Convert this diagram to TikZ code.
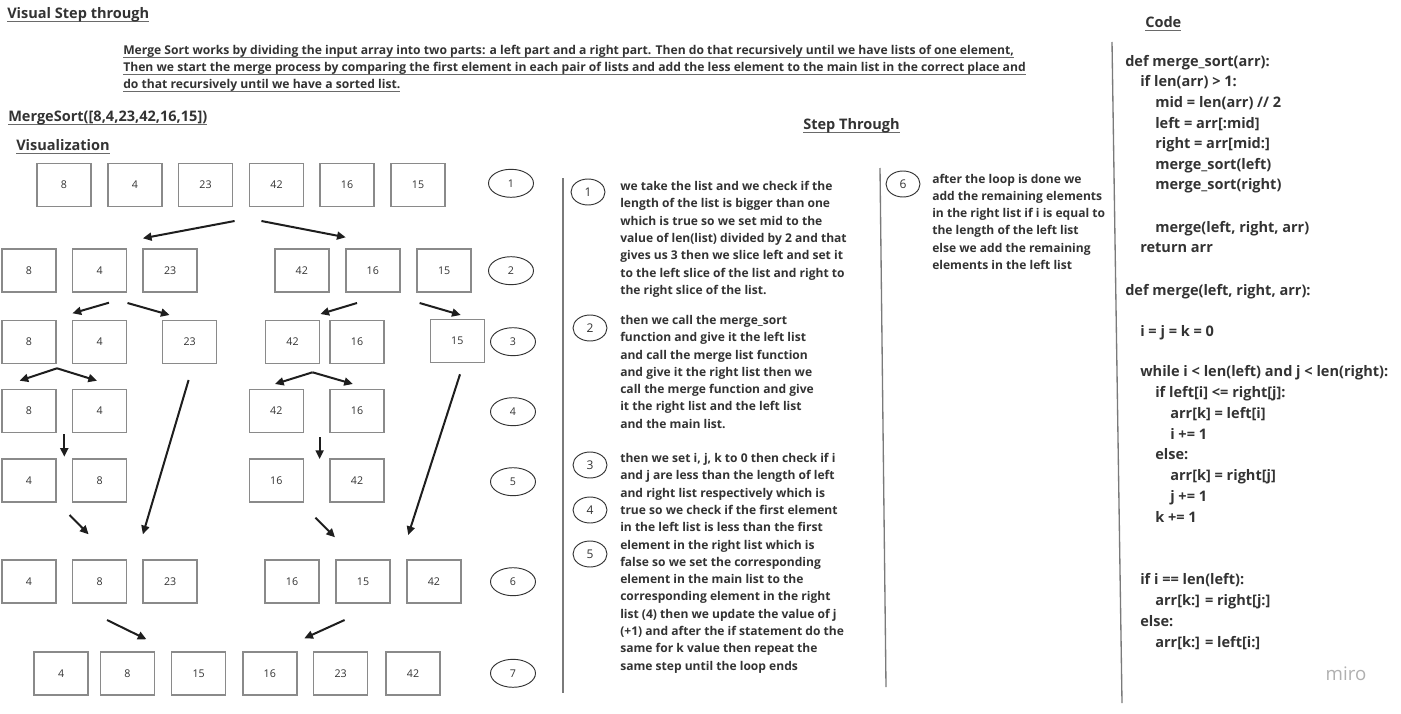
\documentclass[tikz,border=0pt]{standalone}
\usepackage{fontspec}
\setmainfont{Open Sans}
\usetikzlibrary{arrows.meta,shapes.geometric}
\definecolor{txt}{HTML}{333333}
\definecolor{boxgray}{HTML}{8A8A8A}
\definecolor{arr}{HTML}{1E1E1E}
\definecolor{sep}{HTML}{7A7A7A}
\definecolor{ulgray}{HTML}{6A6A6A}
\definecolor{mirogray}{HTML}{B0B0B0}
\newcommand\ulx[1]{\setbox0\hbox{#1}\rlap{\color{ulgray}\rule[-1.9pt]{\wd0}{0.7pt}}\box0}
\newcommand\stepfnt{\fontsize{9.05pt}{12.98pt}\selectfont\bfseries}
\newcommand\codefnt{\fontsize{10.9pt}{12pt}\selectfont\bfseries}
\newcommand\valfnt{\fontsize{8pt}{9pt}\selectfont}
\tikzset{
  valbox/.style={draw=boxgray, line width=1.1pt, minimum width=40.5pt, minimum height=32.25pt, inner sep=0pt, font=\valfnt, text=txt},
  rowlabel/.style={ellipse, draw=txt, line width=0.7pt, minimum width=33.75pt, minimum height=21pt, inner sep=0pt, font=\valfnt, text=txt},
  steplabel/.style={ellipse, draw=txt, line width=0.7pt, minimum width=25.5pt, minimum height=19.5pt, inner sep=0pt, font=\fontsize{9pt}{10pt}\selectfont, text=txt},
  steptext/.style={anchor=north west, inner sep=0pt, align=left, font=\stepfnt, text=txt},
  codeline/.style={anchor=base west, inner sep=0pt, font=\codefnt, text=txt},
  heading/.style={anchor=base west, inner sep=0pt, font=\fontsize{10.9pt}{12pt}\selectfont\bfseries, text=txt},
  intro/.style={anchor=base west, inner sep=0pt, font=\fontsize{9.1pt}{10pt}\selectfont\bfseries, text=txt},
  arrowline/.style={draw=arr, line width=1.5pt, -{Triangle[length=6.5pt,width=6pt]}},
  separator/.style={draw=sep, line width=1pt}
}
\begin{document}
\begin{tikzpicture}[x=0.75pt,y=-0.75pt]
\fill[white] (0,0) rectangle (1401,713);
\useasboundingbox (0,0) rectangle (1401,713);

% headings
\node[heading] (hvisual) at (7,19) {\ulx{Visual Step through}};
\node[intro] (in1) at (123,55) {\ulx{Merge Sort works by dividing the input array into two parts: a left part and a right part. Then do that recursively until we have lists of one element,}};
\node[intro] (in2) at (123,72) {\ulx{Then we start the merge process by comparing the first element in each pair of lists and add the less element to the main list in the correct place and}};
\node[intro] (in3) at (123,89) {\ulx{do that recursively until we have a sorted list.}};
\node[heading] (hms) at (8,122) {\ulx{MergeSort([8,4,23,42,16,15])}};
\node[heading] (hviz) at (16,151) {\ulx{Visualization}};
\node[heading] (hstep) at (803,130) {\ulx{Step Through}};
\node[heading] (hcode) at (1145,28) {\ulx{Code}};

% row 1
\node[valbox] (r1a) at (64,185) {8};
\node[valbox] (r1b) at (135,185) {4};
\node[valbox] (r1c) at (205.5,185) {23};
\node[valbox] (r1d) at (276.5,185) {42};
\node[valbox] (r1e) at (347,185) {16};
\node[valbox] (r1f) at (418,185) {15};
% row 2
\node[valbox] (r2a) at (29,270.5) {8};
\node[valbox] (r2b) at (99.6,270.5) {4};
\node[valbox] (r2c) at (170.2,270.5) {23};
\node[valbox] (r2d) at (301.8,270.5) {42};
\node[valbox] (r2e) at (372.8,270.5) {16};
\node[valbox] (r2f) at (444.2,270.5) {15};
% row 3
\node[valbox] (r3a) at (29,342) {8};
\node[valbox] (r3b) at (99.6,342) {4};
\node[valbox] (r3c) at (189.6,342) {23};
\node[valbox] (r3d) at (292.5,342) {42};
\node[valbox] (r3e) at (357,342) {16};
\node[valbox] (r3f) at (457.3,341) {15};
% row 4
\node[valbox] (r4a) at (29,411) {8};
\node[valbox] (r4b) at (99.6,411) {4};
\node[valbox] (r4c) at (276.3,411) {42};
\node[valbox] (r4d) at (357,411) {16};
% row 5
\node[valbox] (r5a) at (29,480.5) {4};
\node[valbox] (r5b) at (99.6,480.5) {8};
\node[valbox] (r5c) at (276.3,480.5) {16};
\node[valbox] (r5d) at (357,480.5) {42};
% row 6
\node[valbox] (r6a) at (29,581.3) {4};
\node[valbox] (r6b) at (99.6,581.3) {8};
\node[valbox] (r6c) at (170.2,581.3) {23};
\node[valbox] (r6d) at (292,581.3) {16};
\node[valbox] (r6e) at (363,581.3) {15};
\node[valbox] (r6f) at (433.9,581.3) {42};
% row 7
\node[valbox] (r7a) at (61.2,673.5) {4};
\node[valbox] (r7b) at (127.3,673.5) {8};
\node[valbox] (r7c) at (198.7,673.5) {15};
\node[valbox] (r7d) at (269.8,673.5) {16};
\node[valbox] (r7e) at (340.7,673.5) {23};
\node[valbox] (r7f) at (413,673.5) {42};

% row labels
\node[rowlabel] (c1) at (511,183.3) {1};
\node[rowlabel] (c2) at (511,270.7) {2};
\node[rowlabel] (c3) at (513,341.7) {3};
\node[rowlabel] (c4) at (513,411.7) {4};
\node[rowlabel] (c5) at (513,481.7) {5};
\node[rowlabel] (c6) at (513,581.7) {6};
\node[rowlabel] (c7) at (513,673.3) {7};

% arrow end points
\coordinate (p1s) at (234.6,221);   \coordinate (p1e) at (142.9,238.3);
\coordinate (p2s) at (261.4,221);   \coordinate (p2e) at (345.7,237.3);
\coordinate (p3s) at (109,302.7);   \coordinate (p3e) at (72.5,313.3);
\coordinate (p4s) at (127.5,303);   \coordinate (p4e) at (169.6,315);
\coordinate (p5s) at (357,303);     \coordinate (p5e) at (320.4,314);
\coordinate (p6s) at (419.6,303);   \coordinate (p6e) at (460.7,315);
\coordinate (p7s) at (57,368.3);    \coordinate (p7l) at (19.6,380.7);  \coordinate (p7r) at (97,380.7);
\coordinate (p8s) at (312.5,372.3); \coordinate (p8l) at (275,384);     \coordinate (p8r) at (352.9,384);
\coordinate (p9s) at (188.6,380);   \coordinate (p9e) at (142.9,534.3);
\coordinate (p10s) at (460,374.3);  \coordinate (p10e) at (408.2,535);
\coordinate (p11s) at (64.3,434.3); \coordinate (p11e) at (64.3,456.7);
\coordinate (p12s) at (319.6,437.3);\coordinate (p12e) at (319.6,459);
\coordinate (p13s) at (69.6,515);   \coordinate (p13e) at (88.6,534.3);
\coordinate (p14s) at (315.4,517.7);\coordinate (p14e) at (335,537.3);
\coordinate (p15s) at (107,620);    \coordinate (p15e) at (146.4,639.3);
\coordinate (p16s) at (344.6,620);  \coordinate (p16e) at (304.3,638.3);

\draw[arrowline] (p1s) -- (p1e);
\draw[arrowline] (p2s) -- (p2e);
\draw[arrowline] (p3s) -- (p3e);
\draw[arrowline] (p4s) -- (p4e);
\draw[arrowline] (p5s) -- (p5e);
\draw[arrowline] (p6s) -- (p6e);
\draw[arrowline] (p7s) -- (p7l);
\draw[arrowline] (p7s) -- (p7r);
\draw[arrowline] (p8s) -- (p8l);
\draw[arrowline] (p8s) -- (p8r);
\draw[arrowline] (p9s) -- (p9e);
\draw[arrowline] (p10s) -- (p10e);
\draw[arrowline] (p11s) -- (p11e);
\draw[arrowline] (p12s) -- (p12e);
\draw[arrowline] (p13s) -- (p13e);
\draw[arrowline] (p14s) -- (p14e);
\draw[arrowline] (p15s) -- (p15e);
\draw[arrowline] (p16s) -- (p16e);

% separators
\draw[separator] (563,178) -- (563,693);
\draw[separator] (880,168) -- (886,687);
\draw[separator] (1112,42) -- (1122,703);

% step through
\node[steplabel] (s1) at (588,192) {1};
\node[steplabel] (s2) at (590,328) {2};
\node[steplabel] (s3) at (590,465) {3};
\node[steplabel] (s4) at (590,510) {4};
\node[steplabel] (s5) at (590,554) {5};
\node[steplabel] (s6) at (903,184) {6};

\node[steptext] (t1) at (620,181) {we take the list and we check if the\\length of the list is bigger than one\\which is true so we set mid to the\\value of len(list) divided by 2 and that\\gives us 3 then we slice left and set it\\to the left slice of the list and right to\\the right slice of the list.};
\node[steptext] (t2) at (620,315) {then we call the merge\_sort\\function and give it the left list\\and call the merge list function\\and give it the right list then we\\call the merge function and give\\it the right list and the left list\\and the main list.};
\node[steptext] (t3) at (620,453) {then we set i, j, k to 0 then check if i\\and j are less than the length of left\\and right list respectively which is\\true so we check if the first element\\in the left list is less than the first\\element in the right list which is\\false so we set the corresponding\\element in the main list to the\\corresponding element in the right\\list (4) then we update the value of j\\(+1) and after the if statement do the\\same for k value then repeat the\\same step until the loop ends};
\node[steptext] (t6) at (932,173.5) {after the loop is done we\\add the remaining elements\\in the right list if i is equal to\\the length of the left list\\else we add the remaining\\elements in the left list};

% code
\node[codeline] (k1) at (1125,67) {def merge\_sort(arr):};
\node[codeline] (k2) at (1140,87) {if len(arr) > 1:};
\node[codeline] (k3) at (1155,108) {mid = len(arr) // 2};
\node[codeline] (k4) at (1155,128) {left = arr[:mid]};
\node[codeline] (k5) at (1155,149) {right = arr[mid:]};
\node[codeline] (k6) at (1155,169) {merge\_sort(left)};
\node[codeline] (k7) at (1155,190) {merge\_sort(right)};
\node[codeline] (k8) at (1155,232) {merge(left, right, arr)};
\node[codeline] (k9) at (1140,252) {return arr};
\node[codeline] (k10) at (1125,295) {def merge(left, right, arr):};
\node[codeline] (k11) at (1140,336) {i = j = k = 0};
\node[codeline] (k12) at (1140,376) {while i < len(left) and j < len(right):};
\node[codeline] (k13) at (1155,397) {if left[i] <= right[j]:};
\node[codeline] (k14) at (1170,418) {arr[k] = left[i]};
\node[codeline] (k15) at (1170,439) {i += 1};
\node[codeline] (k16) at (1155,459) {else:};
\node[codeline] (k17) at (1170,480) {arr[k] = right[j]};
\node[codeline] (k18) at (1170,501) {j += 1};
\node[codeline] (k19) at (1155,522) {k += 1};
\node[codeline] (k20) at (1140,584) {if i == len(left):};
\node[codeline] (k21) at (1155,605) {arr[k:] = right[j:]};
\node[codeline] (k22) at (1140,626) {else:};
\node[codeline] (k23) at (1155,647) {arr[k:] = left[i:]};

\node[font=\fontsize{14pt}{15pt}\selectfont, text=mirogray, inner sep=0pt] (miro) at (1346,674) {miro};
\end{tikzpicture}
\end{document}
